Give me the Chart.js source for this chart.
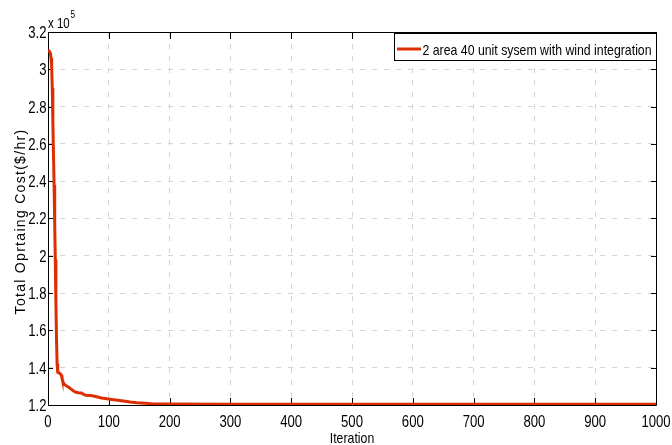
<!DOCTYPE html>
<html>
<head>
<meta charset="utf-8">
<script src="https://cdn.jsdelivr.net/npm/chart.js@4.4.1/dist/chart.umd.min.js"></script>
<style>
  html, body { margin: 0; padding: 0; background: #fff; }
  canvas { display: block; }
</style>
</head>
<body>
<canvas id="chart" width="672" height="445"></canvas>
<script>
// Convergence of total operating cost (values in units of 1e5 $/hr)
const iterations = [0, 2, 4, 5, 6, 7, 8, 9, 10, 11, 12, 13, 14, 15, 16, 18, 20, 22, 23, 25, 27, 30, 34, 38, 42, 46, 50, 55, 58, 62, 70, 75, 80, 88, 97, 105, 115, 124, 135, 146, 160, 173, 200, 300, 1000];
const totalCost = [3.100, 3.098, 3.085, 3.06, 3.02, 2.90, 2.72, 2.55, 2.38, 2.18, 1.98, 1.75, 1.55, 1.42, 1.375, 1.372, 1.368, 1.36, 1.345, 1.32, 1.31, 1.303, 1.295, 1.285, 1.275, 1.268, 1.266, 1.264, 1.258, 1.252, 1.251, 1.248, 1.244, 1.238, 1.233, 1.230, 1.226, 1.222, 1.216, 1.212, 1.209, 1.206, 1.205, 1.2045, 1.204];
const xTickValues = [0, 100, 200, 300, 400, 500, 600, 700, 800, 900, 1000];
const yTickValues = [1.2, 1.4, 1.6, 1.8, 2.0, 2.2, 2.4, 2.6, 2.8, 3.0, 3.2];
const xTickLabels = ['0', '100', '200', '300', '400', '500', '600', '700', '800', '900', '1000'];
const yTickLabels = ['1.2', '1.4', '1.6', '1.8', '2', '2.2', '2.4', '2.6', '2.8', '3', '3.2'];
const seriesLabel = '2 area 40 unit sysem with wind integration';
const xTitle = 'Iteration';
const yTitle = 'Total Oprtaing Cost($/hr)';

const FONT = "'Liberation Sans', Arial, sans-serif";
const SQUEEZE = 0.82;           // condensed lettering
const lineColor = '#dc2e00';

// Text drawn with a horizontally condensed face
function condensedText(ctx, text, x, y, size, align, baseline) {
  ctx.save();
  ctx.translate(x, y);
  ctx.scale(SQUEEZE, 1);
  ctx.font = size + 'px ' + FONT;
  ctx.textAlign = align;
  ctx.textBaseline = baseline;
  ctx.fillText(text, 0, 0);
  ctx.restore();
}

// Frame, inward tick marks, tick labels, axis titles, exponent label and legend box
const framePlugin = {
  id: 'frame',
  beforeDatasetsDraw(chart) {
    const { ctx, chartArea: a, scales } = chart;
    ctx.save();
    ctx.strokeStyle = '#000';
    ctx.lineWidth = 1;
    ctx.beginPath();
    ctx.rect(Math.round(a.left) + 0.5, Math.round(a.top) + 0.5,
             Math.round(a.right - a.left), Math.round(a.bottom - a.top));
    ctx.stroke();
    ctx.beginPath();
    for (const v of xTickValues) {
      const px = Math.round(scales.x.getPixelForValue(v)) + 0.5;
      ctx.moveTo(px, a.bottom); ctx.lineTo(px, a.bottom - 7);
      ctx.moveTo(px, a.top); ctx.lineTo(px, a.top + 7);
    }
    for (const v of yTickValues) {
      const py = Math.round(scales.y.getPixelForValue(v)) + 0.5;
      ctx.moveTo(a.left, py); ctx.lineTo(a.left + 5, py);
      ctx.moveTo(a.right, py); ctx.lineTo(a.right - 5, py);
    }
    ctx.stroke();
    ctx.restore();
  },
  afterDraw(chart) {
    const { ctx, chartArea: a, scales } = chart;
    ctx.save();
    ctx.fillStyle = '#000';
    // tick labels
    xTickValues.forEach((v, i) => {
      condensedText(ctx, xTickLabels[i], scales.x.getPixelForValue(v), 427, 16, 'center', 'alphabetic');
    });
    yTickValues.forEach((v, i) => {
      condensedText(ctx, yTickLabels[i], a.left - 1.5, scales.y.getPixelForValue(v) + 1.5, 16, 'right', 'middle');
    });
    // y axis title, letter-spaced
    ctx.save();
    ctx.translate(25, (a.top + a.bottom) / 2 + 3);
    ctx.rotate(-Math.PI / 2);
    ctx.font = '14px ' + FONT;
    if ('letterSpacing' in ctx) ctx.letterSpacing = '1.3px';
    ctx.textAlign = 'center';
    ctx.textBaseline = 'alphabetic';
    ctx.fillText(yTitle, 0, 0);
    ctx.restore();
    // x axis title
    condensedText(ctx, xTitle, (a.left + a.right) / 2, 443, 15, 'center', 'alphabetic');
    // exponent
    condensedText(ctx, 'x 10', a.left, 28, 14, 'left', 'alphabetic');
    condensedText(ctx, '5', a.left + 22.5, 18, 10, 'left', 'alphabetic');
    // legend
    const lx = 394, ly = Math.round(a.top) + 1, lw = Math.round(a.right) - lx, lh = 27;
    ctx.fillStyle = '#fff';
    ctx.fillRect(lx, ly, lw, lh);
    ctx.strokeStyle = '#000';
    ctx.lineWidth = 1;
    ctx.strokeRect(lx + 0.5, ly + 0.5, lw, lh);
    ctx.strokeStyle = lineColor;
    ctx.lineWidth = 3;
    ctx.beginPath();
    ctx.moveTo(lx + 3, ly + 16); ctx.lineTo(lx + 27, ly + 16);
    ctx.stroke();
    ctx.fillStyle = '#000';
    condensedText(ctx, chart.data.datasets[0].label, lx + 28.5, ly + 22, 15, 'left', 'alphabetic');
    ctx.restore();
  }
};

new Chart(document.getElementById('chart'), {
  type: 'line',
  data: {
    datasets: [{
      label: seriesLabel,
      data: iterations.map((it, i) => ({ x: it, y: totalCost[i] })),
      borderColor: lineColor,
      borderWidth: 3,
      pointRadius: 0,
      tension: 0,
      fill: false
    }]
  },
  options: {
    responsive: false,
    devicePixelRatio: 1,
    animation: false,
    layout: { padding: { top: 32, right: 16, left: 0, bottom: 0 } },
    plugins: { legend: { display: false }, tooltip: { enabled: false } },
    scales: {
      x: {
        type: 'linear',
        min: 0, max: 1000,
        afterFit(s) { s.height = 40; },
        afterBuildTicks(s) { s.ticks = xTickValues.map(v => ({ value: v })); },
        ticks: { display: false },
        grid: { color: '#d4d4d4', lineWidth: 1, drawTicks: false },
        border: { display: false, dash: [5, 7] }
      },
      y: {
        type: 'linear',
        min: 1.2, max: 3.2,
        afterFit(s) { s.width = 48; },
        afterBuildTicks(s) { s.ticks = yTickValues.map(v => ({ value: v })); },
        ticks: { display: false },
        grid: { color: '#d4d4d4', lineWidth: 1, drawTicks: false },
        border: { display: false, dash: [5, 7] }
      }
    }
  },
  plugins: [framePlugin]
});
</script>
</body>
</html>
